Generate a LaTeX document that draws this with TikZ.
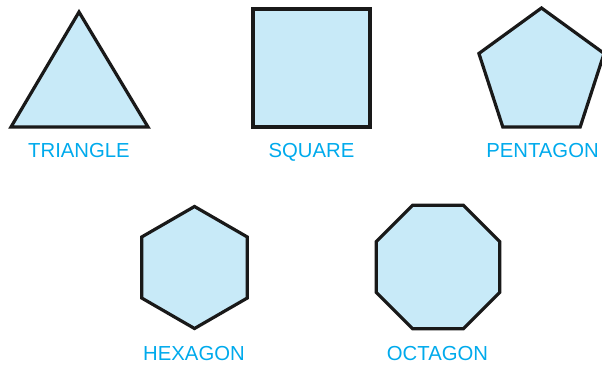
\documentclass[tikz,border=0pt]{standalone}
\usepackage{fontspec}
\setmainfont{Liberation Sans}
\usetikzlibrary{shapes.geometric}
\definecolor{shapefill}{RGB}{200,234,248}
\definecolor{labelcyan}{RGB}{0,170,236}

\begin{document}
\begin{tikzpicture}[x=1pt,y=-1pt]
    % Styling
    \tikzset{
        c_poly/.style={draw=black!90, fill=shapefill, line width=3.2pt, line join=miter},
        c_ngon/.style={c_poly, regular polygon, inner sep=0pt, outer sep=0pt},
        c_label/.style={text=labelcyan, font=\fontsize{20.3}{21}\selectfont, inner sep=0pt, anchor=base}
    }
    \useasboundingbox (0,0) rectangle (602,366);

    % Define points
    \coordinate (A) at (79,12);
    \coordinate (B) at (11,127);
    \coordinate (C) at (148,127);
    \coordinate (P) at (253,9);
    \coordinate (Q) at (370,127);

    % Draw Triangle and Square
    \draw[c_poly] (A) -- (B) -- (C) -- cycle;
    \draw[c_poly] (P) rectangle (Q);

    % Regular polygons
    \node[c_ngon, regular polygon sides=5, minimum size=131.6pt] (penta) at (541.5,73.8) {};
    \node[c_ngon, regular polygon sides=6, shape border rotate=30, minimum size=122pt] (hexa) at (194.5,267.5) {};
    \node[c_ngon, regular polygon sides=8, minimum size=133.5pt] (octa) at (438,267) {};

    % Labels
    \node[c_label] (triangle) at (79,157.5) {TRIANGLE};
    \node[c_label] (square) at (311.5,157.5) {SQUARE};
    \node[c_label] (pentagon) at (542.5,157.5) {PENTAGON};
    \node[c_label] (hexagon) at (194,360.5) {HEXAGON};
    \node[c_label] (octagon) at (437.5,360.5) {OCTAGON};
\end{tikzpicture}
\end{document}
